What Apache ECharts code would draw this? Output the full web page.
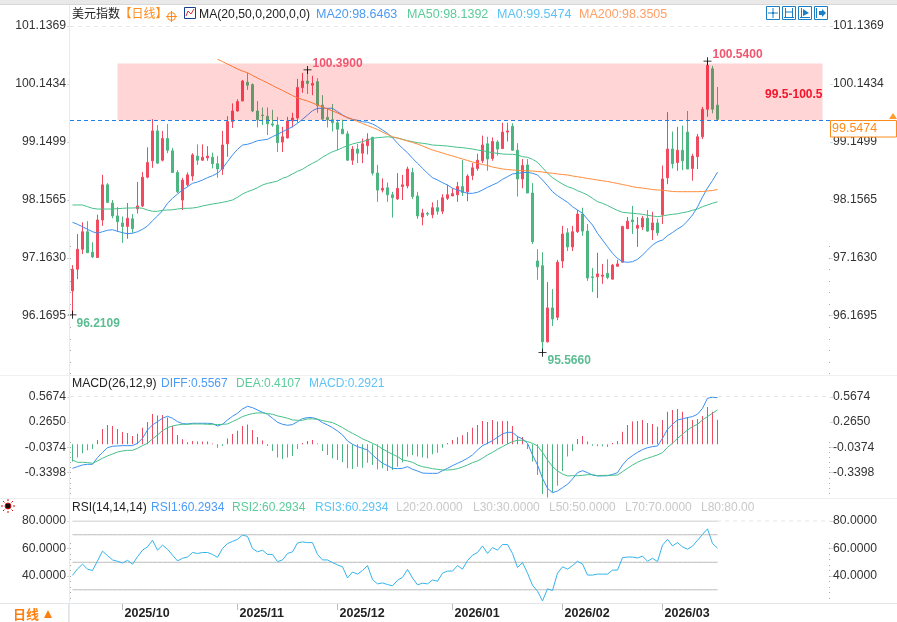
<!DOCTYPE html>
<html>
<head>
<meta charset="utf-8">
<title>美元指数 日线</title>
<script src="https://cdn.jsdelivr.net/npm/echarts@6/dist/echarts.min.js"></script>
<style>html,body{margin:0;padding:0;background:#fff}</style>
</head>
<body>
<div id="main" style="width:897px;height:622px;"></div>
<script type="text/javascript">
// 每日 [开, 收, 低, 高]
var candles = [
[96.62,96.99,96.21,97.06],[96.99,97.33,96.82,97.59],[97.33,97.63,97.25,97.79],[97.63,97.27,97.27,97.81],[97.28,97.20,97.18,97.45],
[97.19,97.83,97.18,97.92],[97.83,98.43,97.73,98.60],[98.43,98.13,98.12,98.46],[98.12,97.90,97.86,98.17],[97.90,97.80,97.63,98.05],
[97.78,97.72,97.44,97.89],[97.72,97.86,97.51,98.12],[97.85,97.68,97.61,97.93],[98.02,98.07,97.94,98.48],[98.07,98.56,98.05,98.65],
[98.56,98.81,98.54,99.07],[98.84,99.35,98.72,99.55],[99.35,98.80,98.79,99.45],[98.85,99.22,98.83,99.35],[99.22,99.02,98.97,99.47],
[99.01,98.64,98.64,99.06],[98.64,98.31,98.29,98.68],[98.17,98.51,98.00,98.55],[98.43,98.60,98.40,98.64],[98.58,98.94,98.50,98.97],
[98.92,98.85,98.77,99.12],[98.85,98.90,98.84,99.12],[98.89,98.92,98.84,99.09],[98.90,98.79,98.71,98.98],[98.79,98.70,98.55,98.92],
[98.70,99.11,98.60,99.35],[99.13,99.51,98.91,99.60],[99.51,99.69,99.40,99.82],[99.69,99.85,99.68,99.89],[99.86,100.20,99.86,100.22],
[100.18,100.13,100.05,100.34],[100.14,99.69,99.67,100.16],[99.69,99.54,99.41,99.86],[99.62,99.61,99.45,99.75],[99.60,99.47,99.28,99.75],
[99.47,99.45,99.42,99.71],[99.45,99.15,98.99,99.59],[99.16,99.25,98.99,99.42],[99.23,99.52,99.22,99.59],[99.52,99.57,99.41,99.66],
[99.57,100.09,99.49,100.24],[100.09,100.20,100.00,100.34],[100.20,100.16,99.98,100.39],[100.13,100.16,99.96,100.29],[100.19,99.78,99.66,100.25],
[99.79,99.55,99.55,99.96],[99.58,99.54,99.41,99.74],[99.54,99.49,99.34,99.81],[99.49,99.38,99.02,99.54],[99.38,99.30,99.30,99.54],
[99.30,98.85,98.84,99.35],[98.85,99.04,98.77,99.09],[99.04,98.97,98.80,99.13],[98.97,99.13,98.80,99.22],[99.10,99.21,98.95,99.31],
[99.24,98.63,98.59,99.25],[98.63,98.34,98.14,98.77],[98.34,98.37,98.30,98.54],[98.38,98.26,98.14,98.47],[98.26,98.21,97.87,98.31],
[98.19,98.37,98.17,98.63],[98.40,98.43,98.17,98.60],[98.41,98.70,98.37,98.74],[98.64,98.23,98.19,98.72],[98.24,97.90,97.85,98.31],
[97.88,97.95,97.74,98.02],[97.94,97.93,97.90,97.97],[97.92,98.04,97.86,98.13],[98.04,97.98,97.92,98.17],[97.98,98.21,97.93,98.27],
[98.20,98.26,98.17,98.43],[98.24,98.28,98.24,98.37],[98.26,98.40,98.14,98.48],[98.40,98.30,98.24,98.85],[98.31,98.58,98.15,98.61],
[98.59,98.72,98.51,98.80],[98.71,98.85,98.67,98.96],[98.84,99.11,98.80,99.27],[99.13,98.87,98.67,99.25],[98.88,99.17,98.84,99.24],
[99.16,99.04,98.93,99.19],[99.05,99.33,99.04,99.49],[99.33,99.35,99.17,99.49],[99.43,99.02,99.01,99.48],[99.02,98.53,98.23,99.14],
[98.53,98.76,98.37,98.87],[98.77,98.29,98.29,98.87],[98.29,97.46,97.42,98.46],[97.13,97.03,96.81,97.33],[97.05,95.75,95.566,97.28],
[95.75,96.33,95.74,96.77],[96.33,96.14,96.02,96.65],[96.17,97.11,96.12,97.15],[97.13,97.59,97.01,97.73],[97.61,97.37,97.30,97.69],
[97.37,97.63,97.30,97.73],[97.63,97.93,97.61,98.00],[97.93,97.64,97.56,98.04],[97.64,96.84,96.79,97.76],[96.86,96.85,96.60,97.01],
[96.86,96.91,96.50,97.27],[96.87,96.89,96.74,97.08],[96.92,96.85,96.82,97.16],[96.82,97.06,96.82,97.08],[97.04,97.08,97.04,97.15],
[97.11,97.72,97.11,97.73],[97.68,97.81,97.68,97.88],[97.83,97.80,97.59,98.07],[97.69,97.74,97.37,97.88],[97.71,97.86,97.66,97.90],
[97.86,97.64,97.63,98.00],[97.66,97.78,97.49,97.97],[97.78,97.61,97.56,97.85],[97.92,98.53,97.76,98.76],[98.55,99.04,98.44,99.67],
[99.04,98.79,98.71,99.34],[98.81,99.02,98.67,99.42],[99.02,98.84,98.68,99.44],[99.33,98.70,98.70,99.69],[98.71,98.92,98.50,98.96],
[98.91,99.25,98.70,99.30],[99.25,99.72,99.21,99.76],[99.72,100.47,99.59,100.54],[100.41,99.72,99.65,100.46],[99.79,99.5474,99.53,100.10]
];
var ma20 = [
97.790,97.756,97.715,97.671,97.630,97.603,97.630,97.654,97.664,97.637,
97.613,97.596,97.603,97.630,97.671,97.727,97.818,97.898,97.988,98.115,
98.200,98.273,98.342,98.398,98.456,98.478,98.512,98.552,98.586,98.627,
98.712,98.825,98.939,99.036,99.109,99.122,99.149,99.183,99.195,99.207,
99.251,99.292,99.337,99.378,99.422,99.480,99.548,99.621,99.695,99.736,
99.736,99.736,99.736,99.678,99.621,99.575,99.548,99.531,99.507,99.497,
99.468,99.422,99.365,99.309,99.234,99.139,99.053,98.978,98.883,98.797,
98.712,98.627,98.552,98.512,98.466,98.427,98.371,98.342,98.313,98.285,
98.285,98.302,98.342,98.388,98.427,98.466,98.524,98.569,98.615,98.627,
98.637,98.644,98.627,98.598,98.512,98.415,98.313,98.244,98.188,98.132,
98.057,98.000,97.944,97.842,97.744,97.603,97.488,97.374,97.261,97.176,
97.118,97.108,97.118,97.159,97.232,97.317,97.403,97.459,97.488,97.562,
97.616,97.676,97.727,97.813,97.915,98.052,98.222,98.376,98.504,98.646
];
var ma50 = [
98.086,98.086,98.086,98.057,98.029,98.017,98.017,98.017,98.017,98.023,
98.029,98.034,98.034,98.040,98.029,98.000,97.978,97.978,97.995,98.000,
98.005,98.017,98.029,98.029,98.034,98.046,98.069,98.086,98.103,98.115,
98.132,98.149,98.171,98.217,98.273,98.313,98.342,98.381,98.427,98.456,
98.473,98.495,98.541,98.569,98.615,98.661,98.695,98.751,98.797,98.842,
98.900,98.951,98.995,99.024,99.064,99.098,99.127,99.149,99.166,99.195,
99.224,99.234,99.241,99.251,99.241,99.229,99.207,99.183,99.166,99.149,
99.139,99.127,99.109,99.104,99.098,99.092,99.081,99.070,99.064,99.053,
99.041,99.024,99.012,98.995,98.978,98.968,98.956,98.951,98.951,98.939,
98.910,98.900,98.866,98.814,98.722,98.627,98.552,98.495,98.444,98.398,
98.371,98.330,98.296,98.256,98.200,98.142,98.115,98.077,98.034,97.992,
97.961,97.953,97.944,97.936,97.927,97.910,97.898,97.886,97.898,97.915,
97.927,97.936,97.954,97.970,97.995,98.017,98.057,98.086,98.115,98.139
];
var ma200 = [
null,null,null,null,null,null,null,null,null,null,
null,null,null,null,null,null,null,null,null,null,
null,null,null,null,null,null,null,null,null,100.572,
100.534,100.492,100.449,100.407,100.372,100.343,100.296,100.253,100.210,100.168,
100.125,100.082,100.040,99.997,99.954,99.912,99.886,99.860,99.826,99.792,
99.758,99.724,99.690,99.656,99.613,99.579,99.545,99.511,99.476,99.442,
99.408,99.374,99.331,99.289,99.251,99.229,99.203,99.178,99.152,99.127,
99.092,99.058,99.024,98.999,98.973,98.947,98.922,98.896,98.871,98.845,
98.819,98.797,98.777,98.760,98.734,98.717,98.700,98.691,98.683,98.678,
98.674,98.669,98.666,98.657,98.649,98.635,98.628,98.615,98.606,98.598,
98.581,98.567,98.555,98.538,98.526,98.512,98.499,98.487,98.470,98.453,
98.435,98.418,98.398,98.384,98.376,98.362,98.350,98.342,98.337,98.328,
98.316,98.313,98.313,98.313,98.313,98.313,98.316,98.325,98.333,98.3505
];
var diff = [
-.287,-.267,-.247,-.239,-.239,-.159,-.096,-.040,-.024,-.020,
-.016,-.016,-.016,.012,.072,.171,.231,.271,.311,.335,
.311,.271,.247,.243,.251,.251,.251,.251,.247,.219,
.239,.291,.335,.371,.422,.454,.438,.410,.382,.359,
.311,.263,.239,.227,.235,.271,.307,.319,.319,.299,
.259,.231,.199,.159,.112,.040,0,-.028,-.048,-.068,
-.127,-.179,-.227,-.255,-.287,-.291,-.287,-.267,-.299,-.319,
-.343,-.347,-.347,-.347,-.315,-.287,-.255,-.227,-.199,-.167,
-.127,-.068,-.016,.012,.044,.084,.124,.143,.143,.092,
.064,.012,-.127,-.247,-.406,-.526,-.578,-.558,-.518,-.478,
-.414,-.339,-.315,-.339,-.367,-.378,-.378,-.375,-.359,-.339,
-.247,-.179,-.135,-.096,-.064,-.040,-.028,-.020,.072,.179,
.239,.291,.303,.319,.331,.359,.430,.550,.562,.5567
];
var dea = [
-.187,-.215,-.215,-.219,-.227,-.199,-.167,-.139,-.116,-.092,
-.080,-.072,-.072,-.048,-.016,.012,.064,.112,.163,.199,
.219,.231,.239,.239,.243,.243,.243,.239,.239,.235,
.239,.243,.271,.299,.331,.351,.367,.375,.375,.367,
.359,.339,.327,.311,.291,.287,.287,.303,.303,.299,
.283,.271,.259,.231,.199,.163,.131,.100,.064,.040,
.012,-.016,-.056,-.088,-.120,-.147,-.187,-.199,-.215,-.247,
-.267,-.279,-.291,-.299,-.307,-.307,-.303,-.291,-.271,-.247,
-.219,-.199,-.167,-.127,-.096,-.060,-.028,.004,.032,.048,
.048,.032,.012,-.020,-.096,-.187,-.267,-.319,-.355,-.378,
-.375,-.375,-.371,-.363,-.363,-.375,-.371,-.371,-.371,-.367,
-.327,-.287,-.247,-.215,-.187,-.167,-.147,-.127,-.100,-.036,
.012,.072,.120,.171,.211,.239,.291,.331,.371,.4107
];
var macd = [
-.207,-.159,-.108,-.072,-.056,.052,.183,.231,.219,.183,
.147,.135,.100,.127,.199,.267,.363,.343,.351,.319,
.219,.112,.060,.024,.040,.032,.032,.032,.008,-.040,
-.020,.068,.124,.163,.219,.235,.171,.088,.044,-.020,
-.080,-.159,-.175,-.159,-.139,-.056,.016,.040,.052,.008,
-.080,-.127,-.167,-.187,-.215,-.287,-.295,-.267,-.279,-.219,
-.247,-.299,-.287,-.319,-.307,-.267,-.215,-.147,-.127,-.147,
-.159,-.167,-.120,-.100,-.040,.016,.052,.084,.108,.143,
.199,.231,.279,.267,.291,.271,.279,.279,.219,.100,
.088,-.056,-.207,-.367,-.594,-.637,-.574,-.494,-.319,-.147,
-.080,.064,.100,.032,-.016,-.024,-.024,-.032,.016,.040,
.151,.231,.271,.279,.291,.255,.243,.211,.291,.390,
.410,.422,.390,.327,.291,.303,.339,.446,.390,.2921
];
var rsi = [
40.5,45.2,48.6,45.0,44.0,51.0,58.1,54.8,51.7,50.7,
49.5,51.4,48.6,54.0,58.8,61.2,66.0,58.8,62.4,59.5,
55.2,51.0,52.9,53.8,57.1,56.4,57.1,57.1,55.7,53.6,
60.0,63.6,65.2,66.7,69.8,68.8,60.0,57.6,58.8,55.7,
55.7,50.5,51.7,56.4,57.6,64.0,64.8,64.3,64.3,55.7,
51.7,51.7,49.8,48.1,46.7,38.6,42.9,41.4,44.0,47.6,
37.4,34.3,35.0,33.8,32.9,36.9,39.0,44.8,38.6,33.6,
34.8,34.3,37.1,36.2,42.1,43.6,43.6,47.6,45.0,51.2,
55.2,57.1,61.9,56.4,60.7,58.8,62.9,62.9,56.4,46.2,
49.8,42.1,33.3,29.0,21.9,30.7,29.5,42.1,46.7,45.0,
47.6,50.7,48.8,40.7,40.7,41.4,41.4,41.4,44.3,44.3,
53.3,53.8,53.8,53.1,54.5,50.7,52.9,50.5,62.4,66.7,
61.9,64.3,61.2,59.5,61.7,66.0,70.2,74.3,63.6,60.2934
];
// 标注点
var extremeIndex = [127, 47, 0, 94];
var extremeValue = [100.54, 100.39, 96.2109, 95.566];
var extremeColor = ['#f0566e', '#f0566e', '#5bbd92', '#5bbd92'];
var extremeOffset = [[1, -6.5], [1, -6.5], [0, 9], [1, 8]];
// 横轴和纵轴刻度
var tickIndexes = [10, 33, 53, 76, 98, 118];
var tickLabels = ['2025/10', '2025/11', '2025/12', '2026/01', '2026/02', '2026/03'];
var mainTicks = [101.1369, 100.1434, 99.1499, 98.1565, 97.1630, 96.1695];
var macdTicks = [0.5674, 0.2650, -0.0374, -0.3398];
var rsiTicks = [80, 60, 40];
var rsiLevels = [80, 70, 50, 30, 20];
var bandHigh = 100.5;
var bandLow = 99.53;
var lastPrice = 99.5474;

var FONT = '"Liberation Sans","Noto Sans CJK SC",sans-serif';
var RED = '#ef4a5f', GREEN = '#4cb580', BLUE = '#3b8ff0', MINT = '#45c08a', ORANGE = '#ff8c3c';

var categories = [];
for (var i = 0; i < 152; i++) {
    var t = tickIndexes.indexOf(i);
    categories.push(t >= 0 ? tickLabels[t] : 'd' + i);
}
function isTick(idx) { return tickIndexes.indexOf(idx) >= 0; }

// 一个面板的纵轴：数据轴、左右标签轴、左右小刻度轴
function panelAxes(grid, min, max, labelMin, labelMax, major, step, labelPad) {
    var minor = [];
    var first = major[major.length - 1];
    for (var v = first + step * 6; v >= labelMin; v -= step) {
        if (v <= labelMax) minor.push(v);
    }
    function labelAxis(pos) {
        return {
            type: 'value', gridIndex: grid, position: pos, min: labelMin, max: labelMax, splitLine: { show: false },
            axisLine: { show: false },
            axisTick: { show: true, customValues: major, length: 3, lineStyle: { color: '#c5dcee' } },
            axisLabel: {
                show: true, customValues: major, margin: pos === 'left' ? 4 : 3, color: '#333', fontSize: 12.2, fontFamily: FONT,
                padding: labelPad,
                formatter: function (val) { return val.toFixed(4); }
            }
        };
    }
    function dotAxis(pos) {
        return {
            type: 'value', gridIndex: grid, position: pos, min: labelMin, max: labelMax, splitLine: { show: false },
            axisLine: { show: false }, axisLabel: { show: false },
            axisTick: { show: true, inside: true, customValues: minor, length: 1, lineStyle: { color: '#aaa' } }
        };
    }
    return [
        { type: 'value', gridIndex: grid, min: min, max: max, show: false },
        labelAxis('left'), labelAxis('right'), dotAxis('left'), dotAxis('right')
    ];
}

var yAxes = []
    .concat(panelAxes(0, 95.1846, 101.1403, 95.1537, 101.1369, mainTicks, 0.1987, [3, 0, 0, 0]))
    .concat(panelAxes(1, -0.6416, 0.5674, -0.6416, 0.5674, macdTicks, 0.06048, [0, 0, 0, 0]))
    .concat(panelAxes(2, 19.67, 80, 19.67, 80, rsiTicks, 4, [0, 0, 2, 0]));

function xAxisFor(grid, visible) {
    return {
        type: 'category', gridIndex: grid, data: categories, boundaryGap: true,
        axisLine: { show: false },
        axisTick: { show: visible, alignWithLabel: true, interval: isTick, length: 6, lineStyle: { color: '#bbb' } },
        axisLabel: {
            show: visible, interval: isTick, align: 'left', margin: 3, padding: [0, 0, 0, 2],
            color: '#222', fontSize: 12.5, fontWeight: 'bold', fontFamily: FONT,
            formatter: function (v) { return tickLabels.indexOf(v) >= 0 ? v : ''; }
        },
        splitLine: { show: false }
    };
}

function lineSeries(name, data, color, xi, yi, z) {
    return {
        name: name, type: 'line', data: data, xAxisIndex: xi, yAxisIndex: yi, z: z || 3,
        showSymbol: false, symbol: 'none', connectNulls: false, animation: false,
        lineStyle: { color: color, width: 1 }, itemStyle: { color: color }
    };
}

var extremes = extremeIndex.map(function (idx, k) {
    return {
        value: [idx, extremeValue[k]],
        label: { color: extremeColor[k], offset: extremeOffset[k] }
    };
});

// 粉色区间盖在K线上面
var bandSeries = lineSeries('MA0', [], '#1f7fe8', 0, 0);
bandSeries.markArea = {
    silent: true, z: 6,
    itemStyle: { color: 'rgba(255,0,0,0.165)' },
    label: { show: true, position: 'insideRight', distance: 0, offset: [0, 3], color: '#f5142a', fontWeight: 'bold', fontSize: 12, fontFamily: FONT },
    data: [[
        { name: '99.5-100.5', xAxis: 9, yAxis: bandHigh },
        { xAxis: 150, yAxis: bandLow }
    ]]
};

var series = [
    {
        name: '美元指数', type: 'candlestick', data: candles, xAxisIndex: 0, yAxisIndex: 0, z: 2, barWidth: 3,
        itemStyle: { color: RED, color0: GREEN, borderColor: RED, borderColor0: GREEN, borderWidth: 1 }
    },
    lineSeries('MA20', ma20, BLUE, 0, 0),
    lineSeries('MA50', ma50, MINT, 0, 0),
    lineSeries('MA200', ma200, ORANGE, 0, 0),
    bandSeries,
    {
        name: 'extreme', type: 'scatter', data: extremes, xAxisIndex: 0, yAxisIndex: 0, z: 8,
        symbol: 'path://M0 4.5H10V5.5H0Z M4.5 0H5.5V10H4.5Z', symbolSize: 8,
        itemStyle: { color: '#000', opacity: 1 },
        label: {
            show: true, position: 'right', distance: 0, fontSize: 12, fontWeight: 'bold', fontFamily: FONT,
            formatter: function (p) { return p.value[1].toFixed(4); }
        }
    },
    {
        name: 'MACD', type: 'bar', data: macd, xAxisIndex: 1, yAxisIndex: 5, barWidth: 1, z: 2,
        itemStyle: { color: function (p) { return p.value >= 0 ? RED : GREEN; } }
    },
    lineSeries('DIFF', diff, BLUE, 1, 5),
    lineSeries('DEA', dea, MINT, 1, 5)
];
rsiLevels.forEach(function (lv) {
    series.push(lineSeries('L' + lv, candles.map(function () { return lv; }), '#bbbbbb', 2, 10, 1));
});
// RSI1、RSI2、RSI3 三条数值相同，只看得到最上面一条
series.push(lineSeries('RSI3', rsi, '#35b4ea', 2, 10));

// 版面上的文字和小图标
function txt(x, y, s, fill, extra) {
    return {
        type: 'text', x: x, y: y, silent: true, z: 50,
        style: Object.assign({ text: s, fill: fill, font: '12px ' + FONT, textVerticalAlign: 'middle' }, extra || {})
    };
}
var TOP_FONT = { font: '12.5px ' + FONT };
function seg(x1, y1, x2, y2, color, dash, w) {
    return {
        type: 'line', silent: true, z: 40,
        shape: { x1: x1, y1: y1, x2: x2, y2: y2 },
        style: { stroke: color, lineWidth: w || 1, lineDash: dash || null }
    };
}
function box(x, y, w, h, stroke, fill, lw) {
    return {
        type: 'rect', silent: true, z: 40, shape: { x: x, y: y, width: w, height: h },
        style: { stroke: stroke, fill: fill || '#fff', lineWidth: lw || 1 }
    };
}
function poly(points, fill) {
    return { type: 'polygon', silent: true, z: 45, shape: { points: points }, style: { fill: fill } };
}
function polyline(points, color) {
    return { type: 'polyline', silent: true, z: 45, shape: { points: points }, style: { stroke: color, fill: null, lineWidth: 1 } };
}

var ICON = '#1a7fc7';
var graphic = [
    // 顶部和分隔线
    { type: 'rect', silent: true, z: 30, shape: { x: 0, y: 0, width: 897, height: 4 }, style: { fill: '#e9e9e9' } },
    seg(0, 4.5, 897, 4.5, '#d8d8d8'),
    seg(0, 375.5, 897, 375.5, '#eef1f4'),
    seg(0, 498.5, 897, 498.5, '#eef1f4'),
    seg(0, 603.5, 897, 603.5, '#e3e6e9'),
    seg(69.5, 5, 69.5, 622, '#e3ebf2'),
    seg(70, 26.5, 830, 26.5, '#e6e6e6', [4, 4]),
    seg(70, 396.5, 830, 396.5, '#e6e6e6', [4, 4]),
    seg(717, 521, 830, 521, '#e6e6e6', [4, 4]),
    // 主图图例
    txt(72, 15, '美元指数', '#222'),
    txt(119.5, 15, '【日线】', '#ff8c1a'),
    { type: 'circle', silent: true, z: 45, shape: { cx: 171.5, cy: 16.5, r: 4 }, style: { stroke: '#ff8c1a', fill: null } },
    seg(166, 16.5, 177, 16.5, '#ff8c1a'),
    seg(171.5, 11, 171.5, 22, '#ff8c1a'),
    box(184.5, 7.5, 11, 11, '#1a3c8c', '#fff', 1),
    polyline([[186, 16], [188, 11], [191, 14], [194, 9]], '#e03030'),
    txt(199, 15, 'MA(20,50,0,200,0,0)', '#222', { font: '12.2px ' + FONT }),
    txt(316, 15, 'MA20:98.6463', '#4c9bf5', TOP_FONT),
    txt(407, 15, 'MA50:98.1392', '#5ccb9a', TOP_FONT),
    txt(497, 15, 'MA0:99.5474', '#5cc3f5', TOP_FONT),
    txt(579, 15, 'MA200:98.3505', '#ff9f66', TOP_FONT),
    // 工具按钮
    box(766.5, 6.5, 13, 13, ICON), box(782.5, 6.5, 13, 13, ICON), box(798.5, 6.5, 13, 13, ICON), box(814.5, 6.5, 13, 13, ICON),
    seg(768, 13, 771, 13, ICON), seg(775, 13, 778, 13, ICON), seg(773, 8, 773, 11, ICON), seg(773, 15, 773, 18, ICON),
    box(772, 12, 2, 2, ICON, ICON),
    seg(785.5, 8, 785.5, 18, ICON), seg(792.5, 8, 792.5, 18, ICON), seg(784, 17.5, 794, 17.5, ICON), seg(786, 12, 792, 12, ICON),
    seg(801.5, 8, 801.5, 18, ICON), seg(800, 17.5, 810, 17.5, ICON), poly([[803, 9], [809, 13], [803, 16]], ICON),
    seg(816.5, 8, 816.5, 18, ICON), poly([[819, 11], [822, 11], [822, 9], [826, 13], [822, 17], [822, 15], [819, 15]], ICON),
    // 现价框
    box(830.5, 120.5, 66, 16.5, '#ff8c1a', '#fff', 1),
    txt(832, 129, '99.5474', '#ff8c1a', TOP_FONT),
    poly([[889, 119], [893, 113], [897, 119]], '#ff9c2a'),
    // MACD 图例
    txt(72, 384, 'MACD(26,12,9)', '#222', { font: '12.2px ' + FONT }),
    txt(161, 384, 'DIFF:0.5567', '#4c9bf5'),
    txt(236, 384, 'DEA:0.4107', '#5ccb9a'),
    txt(309, 384, 'MACD:0.2921', '#5cc3f5'),
    // RSI 图例
    txt(72, 508, 'RSI(14,14,14)', '#222'),
    txt(151, 508, 'RSI1:60.2934', '#4c9bf5'),
    txt(232, 508, 'RSI2:60.2934', '#5ccb9a'),
    txt(315, 508, 'RSI3:60.2934', '#5cc3f5'),
    txt(396, 508, 'L20:20.0000', '#c8c8c8'),
    txt(473, 508, 'L30:30.0000', '#c8c8c8'),
    txt(549, 508, 'L50:50.0000', '#c8c8c8'),
    txt(625, 508, 'L70:70.0000', '#c8c8c8'),
    txt(701, 508, 'L80:80.00', '#c8c8c8'),
    // 左下角
    txt(13, 614, '日线', '#ff7f0e', { font: 'bold 13px "Noto Sans CJK SC",sans-serif' }),
    poly([[44, 618], [48, 610], [52, 618]], '#ff7f0e'),
    seg(68.5, 603, 68.5, 622, '#e3e6e9'),
    // RSI 左上小图标
    { type: 'circle', silent: true, z: 45, shape: { cx: 8, cy: 506, r: 3 }, style: { fill: '#111', stroke: '#e01010' } },
    seg(8, 499, 8, 501, '#e01010'), seg(8, 511, 8, 513, '#e01010'), seg(1, 506, 3, 506, '#e01010'), seg(13, 506, 15, 506, '#e01010'),
    seg(3, 501, 4.5, 502.5, '#e01010'), seg(13, 501, 11.5, 502.5, '#e01010'), seg(3, 511, 4.5, 509.5, '#e01010'), seg(13, 511, 11.5, 509.5, '#e01010')
];

var option = {
    backgroundColor: '#fff',
    animation: false,
    textStyle: { fontFamily: FONT },
    grid: [
        { left: 70, width: 760, top: 26, height: 349 },
        { left: 70, width: 760, top: 396.8, height: 101.2 },
        { left: 70, width: 760, top: 521, height: 83 }
    ],
    xAxis: [xAxisFor(0, false), xAxisFor(1, false), xAxisFor(2, true)],
    yAxis: yAxes,
    series: series,
    graphic: graphic
};

var myChart = echarts.init(document.getElementById('main'));
myChart.setOption(option);

// 现价虚线，位置从纵轴换算出来
var priceY = Math.ceil(myChart.convertToPixel({ yAxisIndex: 0 }, lastPrice)) + 0.5;
myChart.setOption({ graphic: graphic.concat([seg(70, priceY, 830, priceY, '#1f7fe8', [4, 3])]) });
</script>
</body>
</html>
